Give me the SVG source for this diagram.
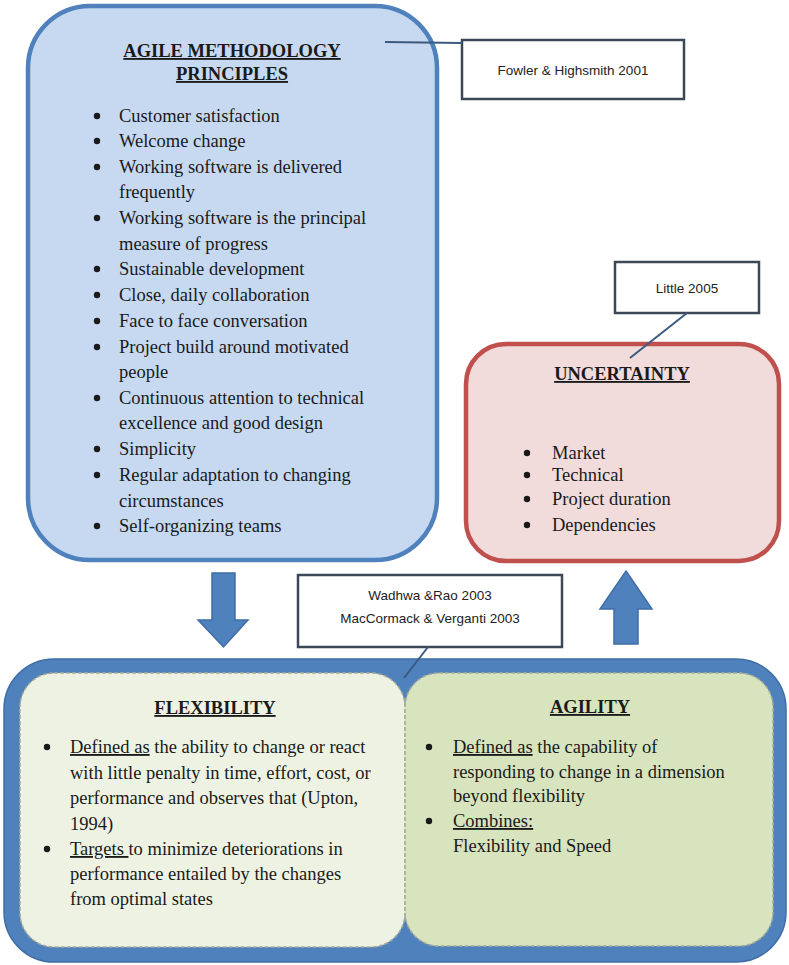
<svg xmlns="http://www.w3.org/2000/svg" width="789" height="965" viewBox="0 0 789 965">
<style>
.t{font-family:"Liberation Serif","Times New Roman",serif;font-size:18.5px;fill:#1a1a1a}
.h{font-family:"Liberation Serif","Times New Roman",serif;font-size:18.5px;font-weight:bold;fill:#1a1a1a;text-decoration:underline}
.u{text-decoration:underline}
.c{font-family:"Liberation Sans",Arial,sans-serif;font-size:13.5px;fill:#222}
.ref{fill:#ffffff;stroke:#3d4857;stroke-width:2.5}
.ln{stroke:#3a5a80;stroke-width:2;fill:none}
.blk{fill:#4f81bd;stroke:#3f6ea6;stroke-width:1.5}
.b{fill:#1a1a1a}
</style>
<rect width="789" height="965" fill="#ffffff"/>

<g id="agile">
<rect x="28" y="6" width="409" height="554" rx="62" fill="#c6d9f1" stroke="#4f81bd" stroke-width="4.5"/>
<text class="h" x="232" y="57" text-anchor="middle">AGILE METHODOLOGY</text>
<text class="h" x="232" y="80" text-anchor="middle">PRINCIPLES</text>
<g class="b">
<circle cx="97" cy="116" r="3.2"/><circle cx="97" cy="141" r="3.2"/><circle cx="97" cy="167" r="3.2"/>
<circle cx="97" cy="218" r="3.2"/><circle cx="97" cy="269" r="3.2"/><circle cx="97" cy="295" r="3.2"/>
<circle cx="97" cy="321" r="3.2"/><circle cx="97" cy="347" r="3.2"/><circle cx="97" cy="398" r="3.2"/>
<circle cx="97" cy="449" r="3.2"/><circle cx="97" cy="475" r="3.2"/><circle cx="97" cy="526" r="3.2"/>
</g>
<text class="t" x="119" y="122">Customer satisfaction</text>
<text class="t" x="119" y="147">Welcome change</text>
<text class="t" x="119" y="173">Working software is delivered</text>
<text class="t" x="119" y="198">frequently</text>
<text class="t" x="119" y="224">Working software is the principal</text>
<text class="t" x="119" y="250">measure of progress</text>
<text class="t" x="119" y="275">Sustainable development</text>
<text class="t" x="119" y="301">Close, daily collaboration</text>
<text class="t" x="119" y="327">Face to face conversation</text>
<text class="t" x="119" y="353">Project build around motivated</text>
<text class="t" x="119" y="378">people</text>
<text class="t" x="119" y="404">Continuous attention to technical</text>
<text class="t" x="119" y="429">excellence and good design</text>
<text class="t" x="119" y="455">Simplicity</text>
<text class="t" x="119" y="481">Regular adaptation to changing</text>
<text class="t" x="119" y="507">circumstances</text>
<text class="t" x="119" y="532">Self-organizing teams</text>
</g>

<g id="fowler">
<rect class="ref" x="462" y="40" width="222" height="59"/>
<text class="c" x="573" y="75" text-anchor="middle">Fowler &amp; Highsmith 2001</text>
</g>

<g id="little">
<rect class="ref" x="615" y="262" width="144" height="51"/>
<text class="c" x="687" y="293" text-anchor="middle">Little 2005</text>
</g>

<g id="uncertainty">
<rect x="466" y="344" width="313" height="217" rx="40" fill="#f2dcdb" stroke="#c0504d" stroke-width="4.5"/>
<text class="h" x="622" y="380" text-anchor="middle">UNCERTAINTY</text>
<g class="b">
<circle cx="527" cy="453" r="3.2"/><circle cx="527" cy="475" r="3.2"/>
<circle cx="527" cy="499" r="3.2"/><circle cx="527" cy="525" r="3.2"/>
</g>
<text class="t" x="552" y="459">Market</text>
<text class="t" x="552" y="481">Technical</text>
<text class="t" x="552" y="505">Project duration</text>
<text class="t" x="552" y="531">Dependencies</text>
</g>

<g id="wadhwa">
<rect class="ref" x="298" y="575" width="264" height="72"/>
<text class="c" x="430" y="600" text-anchor="middle">Wadhwa &amp;Rao 2003</text>
<text class="c" x="430" y="623" text-anchor="middle">MacCormack &amp; Verganti 2003</text>
</g>

<g id="frame">
<rect x="4" y="659" width="782" height="303" rx="50" fill="#4f81bd" stroke="#3f6ea6" stroke-width="1.5"/>
</g>

<g id="flexibility">
<rect x="20" y="673" width="385" height="274" rx="34" fill="#eef2e2" stroke="#a7ad98" stroke-width="1.5" stroke-dasharray="4 2"/>
<text class="h" x="215" y="714" text-anchor="middle">FLEXIBILITY</text>
<g class="b"><circle cx="47" cy="747" r="3.2"/><circle cx="47" cy="849" r="3.2"/></g>
<text class="t" x="70" y="753"><tspan class="u">Defined as</tspan> the ability to change or react</text>
<text class="t" x="70" y="779">with little penalty in time, effort, cost, or</text>
<text class="t" x="70" y="804">performance and observes that (Upton,</text>
<text class="t" x="70" y="830">1994)</text>
<text class="t" x="70" y="855"><tspan class="u">Targets </tspan>to minimize deteriorations in</text>
<text class="t" x="70" y="880">performance entailed by the changes</text>
<text class="t" x="70" y="905">from optimal states</text>
</g>

<g id="agility">
<rect x="405" y="673" width="368" height="273" rx="34" fill="#d8e4bd" stroke="#a7ad98" stroke-width="1.5" stroke-dasharray="4 2"/>
<text class="h" x="590" y="713" text-anchor="middle">AGILITY</text>
<g class="b"><circle cx="429" cy="747" r="3.2"/><circle cx="429" cy="821" r="3.2"/></g>
<text class="t" x="453" y="753"><tspan class="u">Defined as</tspan> the capability of</text>
<text class="t" x="453" y="778">responding to change in a dimension</text>
<text class="t" x="453" y="802">beyond flexibility</text>
<text class="t" x="453" y="827"><tspan class="u">Combines:</tspan></text>
<text class="t" x="453" y="852">Flexibility and Speed</text>
</g>

<g id="connectors">
<line class="ln" x1="385" y1="42" x2="462" y2="43"/>
<line class="ln" x1="687" y1="313" x2="630" y2="358"/>
<line class="ln" x1="428" y1="647" x2="404" y2="678"/>
<path class="blk" d="M212,573 H235 V620 H248 L223.5,647 L198,620 H212 Z"/>
<path class="blk" d="M626,571 L652,609 H638 V644 H614 V609 H600 Z"/>
</g>
</svg>
